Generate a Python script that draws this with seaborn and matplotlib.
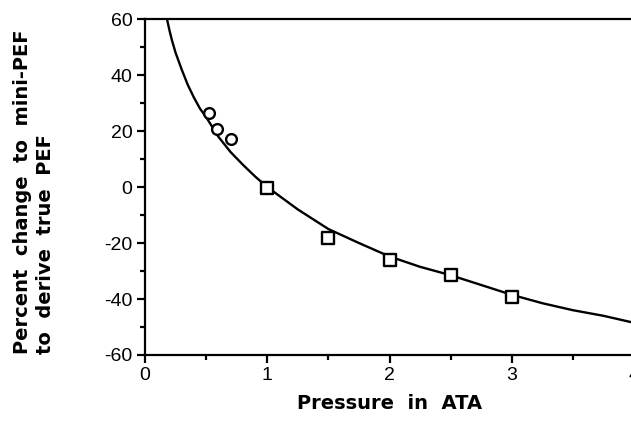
import matplotlib
matplotlib.use("Agg")
import matplotlib.pyplot as plt
import seaborn as sns
import pandas as pd
from matplotlib.ticker import MultipleLocator

# curve
curve_x = [0.18, 0.20, 0.22, 0.25, 0.30, 0.35, 0.40, 0.45, 0.50, 0.60, 0.70, 0.80, 0.90,
           1.00, 1.25, 1.50, 1.75, 2.00, 2.25, 2.50, 2.75, 3.00, 3.25, 3.50, 3.75, 4.00]
curve_y = [60.0, 56.0, 52.5, 48.0, 42.0, 36.5, 32.0, 28.0, 25.0, 18.0, 12.5, 8.0, 3.8,
           0.0, -8.0, -15.0, -20.0, -24.8, -28.5, -31.5, -35.0, -38.5, -41.5, -44.0, -46.0, -48.5]

# circles (low pressure)
circle_x = [0.52, 0.59, 0.70]
circle_y = [26.5, 20.7, 17.1]

# squares
square_x = [1.0, 1.5, 2.0, 2.5, 3.0]
square_y = [-0.2, -18.2, -26.1, -31.4, -39.4]

sns.set_style("ticks")
plt.rcParams['font.family'] = ['Liberation Sans', 'DejaVu Sans']
plt.rcParams['axes.unicode_minus'] = False
plt.rcParams['text.color'] = 'black'
plt.rcParams['axes.labelcolor'] = 'black'
plt.rcParams['xtick.color'] = 'black'
plt.rcParams['ytick.color'] = 'black'

fig = plt.figure(figsize=(6.31, 4.23), dpi=100)
ax = fig.add_axes([0.2298, 0.1608, 0.775, 0.794])

curve = pd.DataFrame({"x": curve_x, "y": curve_y})
sns.lineplot(data=curve, x="x", y="y", color="black", linewidth=1.7, ax=ax)
sns.scatterplot(x=circle_x, y=circle_y, marker="o", s=60, facecolor="white",
                edgecolor="black", linewidth=1.7, ax=ax, zorder=3)
sns.scatterplot(x=square_x, y=square_y, marker="s", s=70, facecolor="white",
                edgecolor="black", linewidth=1.7, ax=ax, zorder=3)

ax.set_xlim(0, 4)
ax.set_ylim(-60, 60)
ax.xaxis.set_major_locator(MultipleLocator(1))
ax.xaxis.set_minor_locator(MultipleLocator(0.5))
ax.yaxis.set_major_locator(MultipleLocator(20))
ax.yaxis.set_minor_locator(MultipleLocator(10))

for side, spine in ax.spines.items():
    spine.set_color("black")
    spine.set_linewidth(1.6)
ax.spines["right"].set_visible(False)

ax.tick_params(axis="both", which="major", direction="out", length=6, width=1.6,
               labelsize=14, color="black", pad=3)
ax.tick_params(axis="both", which="minor", direction="out", length=3.5, width=1.6,
               color="black")
ax.tick_params(top=False, right=False, which="both")

label_font = dict(family="DejaVu Sans", fontsize=14, fontweight="bold")
ax.set_xlabel("Pressure  in  ATA", labelpad=7, **label_font)
ax.set_ylabel("Percent  change  to  mini-PEF\nto  derive  true  PEF",
              linespacing=1.25, multialignment="left", **label_font)
ax.yaxis.set_label_coords(-0.184, 0.485)

fig.savefig("out.png", dpi=100)
